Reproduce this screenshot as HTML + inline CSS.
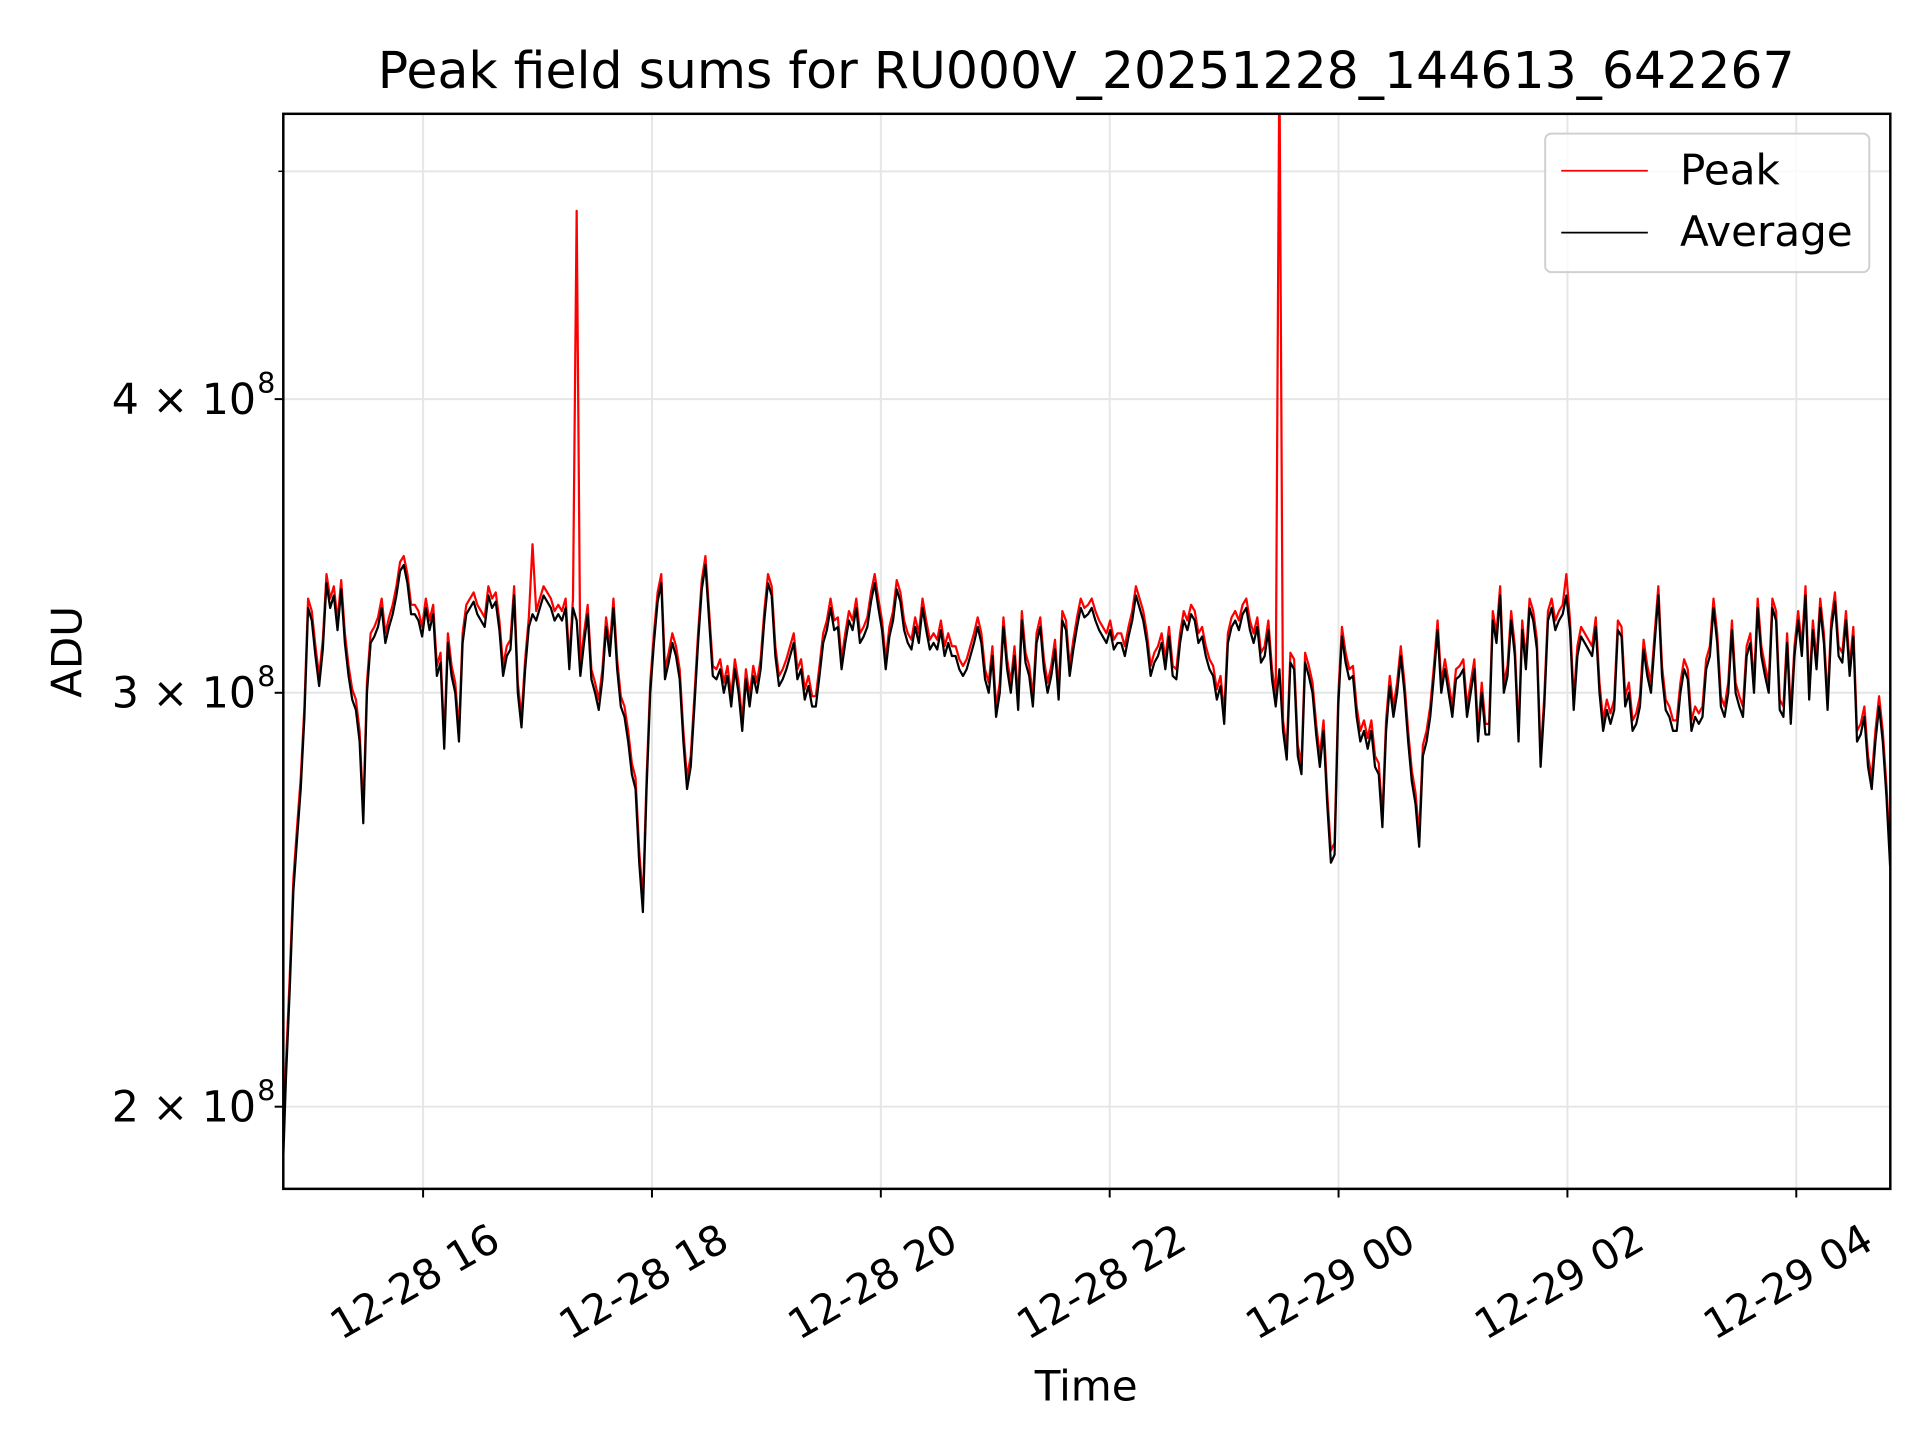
<!DOCTYPE html>
<html><head><meta charset="utf-8"><style>
html,body{margin:0;padding:0;background:#fff;}
svg{display:block;font-family:"DejaVu Sans","Liberation Sans",sans-serif;}
</style></head><body>
<svg id="chart" width="1920" height="1440" viewBox="0 0 1552 1164" preserveAspectRatio="none" xmlns="http://www.w3.org/2000/svg">
<rect width="1552" height="1164" fill="#fff"/>
<defs><clipPath id="clip"><rect x="229" y="92" width="1299" height="869"/></clipPath></defs>
<g id="grid"></g>
<g id="series" clip-path="url(#clip)"></g>
<rect x="229" y="92" width="1299" height="869" fill="none" stroke="#000" stroke-width="2"/>
<g id="ticks"></g>
<text x="878" y="71" font-size="40.8" text-anchor="middle">Peak field sums for RU000V_20251228_144613_642267</text>
<text x="878" y="1132" font-size="34" text-anchor="middle">Time</text>
<text transform="translate(66,527) rotate(-90)" font-size="34" text-anchor="middle">ADU</text>
<g>
<rect x="1249" y="108" width="262" height="112" rx="5" fill="#fff" fill-opacity="0.8" stroke="#d0d0d0" stroke-width="1.6"/>
<g><line x1="1262" y1="138" x2="1332" y2="138" stroke="#f00" stroke-width="1.4"/><text x="1358" y="149" font-size="34">Peak</text></g>
<g><line x1="1262" y1="188" x2="1332" y2="188" stroke="#000" stroke-width="1.4"/><text x="1358" y="199" font-size="34">Average</text></g>
</g>
</svg>
<script>
const tStart = 14.77, tEnd = 28.82;
const xTickHours = [16,18,20,22,24,26,28];
const xTickLabels = ["12-28 16","12-28 18","12-28 20","12-28 22","12-29 00","12-29 02","12-29 04"];
const yTickValues = [2,3,4];
const yTickLabels = ["2","3","4"];
const yMinorGrid = [5];
const avgVals = [1.85,2.06,2.24,2.47,2.60,2.73,2.93,3.26,3.22,3.11,3.02,3.13,3.34,3.26,3.30,3.19,3.32,3.15,3.05,2.98,2.95,2.86,2.64,3.00,3.15,3.17,3.20,3.26,3.15,3.20,3.24,3.30,3.38,3.40,3.34,3.24,3.24,3.22,3.17,3.26,3.19,3.24,3.05,3.09,2.84,3.15,3.05,3.00,2.86,3.15,3.24,3.26,3.28,3.24,3.22,3.20,3.30,3.26,3.28,3.19,3.05,3.11,3.13,3.30,3.00,2.90,3.07,3.20,3.24,3.22,3.26,3.30,3.28,3.26,3.22,3.24,3.22,3.26,3.07,3.26,3.22,3.05,3.15,3.24,3.04,3.00,2.95,3.04,3.20,3.11,3.26,3.07,2.96,2.93,2.86,2.77,2.73,2.54,2.42,2.73,3.00,3.15,3.28,3.34,3.04,3.09,3.15,3.11,3.04,2.86,2.73,2.79,2.96,3.15,3.32,3.40,3.22,3.05,3.04,3.07,3.00,3.05,2.96,3.07,3.00,2.89,3.04,2.96,3.05,3.00,3.07,3.22,3.34,3.30,3.11,3.02,3.04,3.07,3.11,3.15,3.04,3.07,2.98,3.02,2.96,2.96,3.05,3.15,3.19,3.26,3.19,3.20,3.07,3.15,3.22,3.19,3.26,3.15,3.17,3.20,3.28,3.34,3.26,3.19,3.07,3.17,3.22,3.32,3.28,3.19,3.15,3.13,3.20,3.15,3.26,3.19,3.13,3.15,3.13,3.19,3.11,3.15,3.11,3.11,3.07,3.05,3.07,3.11,3.15,3.20,3.15,3.04,3.00,3.11,2.93,3.00,3.20,3.07,3.00,3.11,2.95,3.22,3.09,3.05,2.96,3.15,3.20,3.07,3.00,3.05,3.13,2.98,3.22,3.19,3.05,3.13,3.20,3.26,3.23,3.24,3.26,3.22,3.19,3.17,3.15,3.19,3.13,3.15,3.15,3.11,3.17,3.22,3.30,3.26,3.22,3.15,3.05,3.09,3.11,3.15,3.07,3.17,3.05,3.04,3.15,3.22,3.19,3.24,3.22,3.15,3.17,3.11,3.07,3.05,2.98,3.02,2.91,3.15,3.20,3.22,3.19,3.24,3.26,3.19,3.15,3.20,3.09,3.11,3.19,3.04,2.96,3.07,2.89,2.81,3.09,3.07,2.82,2.77,3.09,3.05,3.00,2.88,2.79,2.89,2.69,2.54,2.56,2.96,3.17,3.09,3.04,3.05,2.93,2.86,2.89,2.84,2.89,2.79,2.77,2.63,2.89,3.02,2.93,3.00,3.11,3.00,2.86,2.75,2.69,2.58,2.82,2.86,2.93,3.05,3.19,3.00,3.07,3.00,2.93,3.04,3.05,3.07,2.93,3.00,3.07,2.86,3.00,2.88,2.88,3.22,3.15,3.30,3.00,3.05,3.22,3.11,2.86,3.19,3.07,3.26,3.22,3.13,2.79,2.96,3.22,3.26,3.19,3.22,3.24,3.30,3.19,2.95,3.11,3.17,3.15,3.13,3.11,3.20,3.00,2.89,2.95,2.91,2.95,3.19,3.17,2.96,3.00,2.89,2.91,2.96,3.13,3.05,3.00,3.15,3.30,3.05,2.95,2.93,2.89,2.89,3.00,3.07,3.04,2.89,2.93,2.91,2.93,3.07,3.11,3.26,3.15,2.96,2.93,3.00,3.19,3.00,2.96,2.93,3.11,3.15,3.00,3.26,3.11,3.05,3.00,3.26,3.22,2.95,2.93,3.15,2.91,3.11,3.22,3.11,3.30,2.98,3.19,3.07,3.26,3.15,2.95,3.19,3.28,3.11,3.09,3.22,3.05,3.17,2.86,2.88,2.93,2.79,2.73,2.86,2.96,2.86,2.71,2.53];
const peakVals = [1.87,2.09,2.27,2.50,2.63,2.76,2.96,3.29,3.25,3.14,3.05,3.16,3.37,3.29,3.33,3.22,3.35,3.18,3.08,3.01,2.98,2.89,2.67,3.03,3.18,3.20,3.23,3.29,3.18,3.23,3.27,3.33,3.41,3.43,3.37,3.27,3.27,3.25,3.20,3.29,3.22,3.27,3.08,3.12,2.87,3.18,3.08,3.03,2.89,3.18,3.27,3.29,3.31,3.27,3.25,3.23,3.33,3.29,3.31,3.22,3.08,3.14,3.16,3.33,3.03,2.93,3.10,3.23,3.47,3.25,3.29,3.33,3.31,3.29,3.25,3.27,3.25,3.29,3.10,3.29,4.81,3.08,3.18,3.27,3.07,3.03,2.98,3.07,3.23,3.14,3.29,3.10,2.99,2.96,2.89,2.80,2.76,2.57,2.45,2.76,3.03,3.18,3.31,3.37,3.07,3.12,3.18,3.14,3.07,2.89,2.76,2.82,2.99,3.18,3.35,3.43,3.25,3.08,3.07,3.10,3.03,3.08,2.99,3.10,3.03,2.92,3.07,2.99,3.08,3.03,3.10,3.25,3.37,3.33,3.14,3.05,3.07,3.10,3.14,3.18,3.07,3.10,3.01,3.05,2.99,2.99,3.08,3.18,3.22,3.29,3.22,3.23,3.10,3.18,3.25,3.22,3.29,3.18,3.20,3.23,3.31,3.37,3.29,3.22,3.10,3.20,3.25,3.35,3.31,3.22,3.18,3.16,3.23,3.18,3.29,3.22,3.16,3.18,3.16,3.22,3.14,3.18,3.14,3.14,3.10,3.08,3.10,3.14,3.18,3.23,3.18,3.07,3.03,3.14,2.96,3.03,3.23,3.10,3.03,3.14,2.98,3.25,3.12,3.08,2.99,3.18,3.23,3.10,3.03,3.08,3.16,3.01,3.25,3.22,3.08,3.16,3.23,3.29,3.26,3.27,3.29,3.25,3.22,3.20,3.18,3.22,3.16,3.18,3.18,3.14,3.20,3.25,3.33,3.29,3.25,3.18,3.08,3.12,3.14,3.18,3.10,3.20,3.08,3.07,3.18,3.25,3.22,3.27,3.25,3.18,3.20,3.14,3.10,3.08,3.01,3.05,2.94,3.18,3.23,3.25,3.22,3.27,3.29,3.22,3.18,3.23,3.12,3.14,3.22,3.07,2.99,5.60,2.92,2.84,3.12,3.10,2.85,2.80,3.12,3.08,3.03,2.91,2.82,2.92,2.72,2.57,2.59,2.99,3.20,3.12,3.07,3.08,2.96,2.89,2.92,2.87,2.92,2.82,2.80,2.66,2.92,3.05,2.96,3.03,3.14,3.03,2.89,2.78,2.72,2.61,2.85,2.89,2.96,3.08,3.22,3.03,3.10,3.03,2.96,3.07,3.08,3.10,2.96,3.03,3.10,2.89,3.03,2.91,2.91,3.25,3.18,3.33,3.03,3.08,3.25,3.14,2.89,3.22,3.10,3.29,3.25,3.16,2.82,2.99,3.25,3.29,3.22,3.25,3.27,3.37,3.22,2.98,3.14,3.20,3.18,3.16,3.14,3.23,3.03,2.92,2.98,2.94,2.98,3.22,3.20,2.99,3.03,2.92,2.94,2.99,3.16,3.08,3.03,3.18,3.33,3.08,2.98,2.96,2.92,2.92,3.03,3.10,3.07,2.92,2.96,2.94,2.96,3.10,3.14,3.29,3.18,2.99,2.96,3.03,3.22,3.03,2.99,2.96,3.14,3.18,3.03,3.29,3.14,3.08,3.03,3.29,3.25,2.98,2.96,3.18,2.94,3.14,3.25,3.14,3.33,3.01,3.22,3.10,3.29,3.18,2.98,3.22,3.31,3.14,3.12,3.25,3.08,3.20,2.89,2.91,2.96,2.82,2.76,2.89,2.99,2.89,2.74,2.56];

const NS = "http://www.w3.org/2000/svg";
const X0 = 229, X1 = 1528, Y0 = 92, Y1 = 961;
const pxPerHour = 92.5;
function xScale(h){ return 342 + (h - 16) * pxPerHour; }
function yScale(v){ return 560 - Math.log10(v / 3) * 1900; }
function tAt(i, n){ return tStart + i * (tEnd - tStart) / (n - 1); }
function mk(tag, attrs){ const e = document.createElementNS(NS, tag); for (const k in attrs) e.setAttribute(k, attrs[k]); return e; }

const grid = document.getElementById('grid');
const ticks = document.getElementById('ticks');
const series = document.getElementById('series');

xTickHours.forEach((h, i) => {
  const x = xScale(h);
  const g = mk('line', {x1:x, y1:Y0, x2:x, y2:Y1, stroke:'#e6e6e6', 'stroke-width':1.6});
  
  
  grid.appendChild(g);
  const t = mk('line', {x1:x, y1:Y1, x2:x, y2:Y1 + 7, stroke:'#000', 'stroke-width':1.6});
  
  
  ticks.appendChild(t);
  const lab = mk('text', {'font-size':33.5, 'text-anchor':'middle', transform:'translate(' + (x - 1) + ',1046) rotate(-30)'});
  lab.textContent = xTickLabels[i];
  
  
  ticks.appendChild(lab);
});

yTickValues.forEach((v, i) => {
  const y = yScale(v);
  const g = mk('line', {x1:X0, y1:y, x2:X1, y2:y, stroke:'#e6e6e6', 'stroke-width':1.6});
  
  
  grid.appendChild(g);
  const t = mk('line', {x1:X0 - 7, y1:y, x2:X0, y2:y, stroke:'#000', 'stroke-width':1.6});
  
  
  ticks.appendChild(t);
  const lab = mk('text', {x:207, y:y + 12, 'font-size':34.5, 'text-anchor':'end'});
  lab.textContent = yTickLabels[i] + ' \u00d7 10';
  
  
  ticks.appendChild(lab);
  const sup = mk('text', {x:208, y:y - 5, 'font-size':23, 'text-anchor':'start'});
  sup.textContent = '8';
  
  
  ticks.appendChild(sup);
});
yMinorGrid.forEach(v => {
  const y = yScale(v);
  const g = mk('line', {x1:X0, y1:y, x2:X1, y2:y, stroke:'#e6e6e6', 'stroke-width':1.6});
  
  
  grid.appendChild(g);
  const t = mk('line', {x1:X0 - 4, y1:y, x2:X0, y2:y, stroke:'#000', 'stroke-width':1.2});
  
  
  ticks.appendChild(t);
});

function pathFor(vals){
  const n = vals.length;
  return vals.map((v, i) => (i ? 'L' : 'M') + xScale(tAt(i, n)).toFixed(2) + ',' + yScale(v).toFixed(2)).join('');
}
const peakPath = mk('path', {d:pathFor(peakVals), fill:'none', stroke:'#f00', 'stroke-width':1.8, 'stroke-linejoin':'round'});


series.appendChild(peakPath);
const avgPath = mk('path', {d:pathFor(avgVals), fill:'none', stroke:'#000', 'stroke-width':1.8, 'stroke-linejoin':'round'});


series.appendChild(avgPath);
</script>
</body></html>
